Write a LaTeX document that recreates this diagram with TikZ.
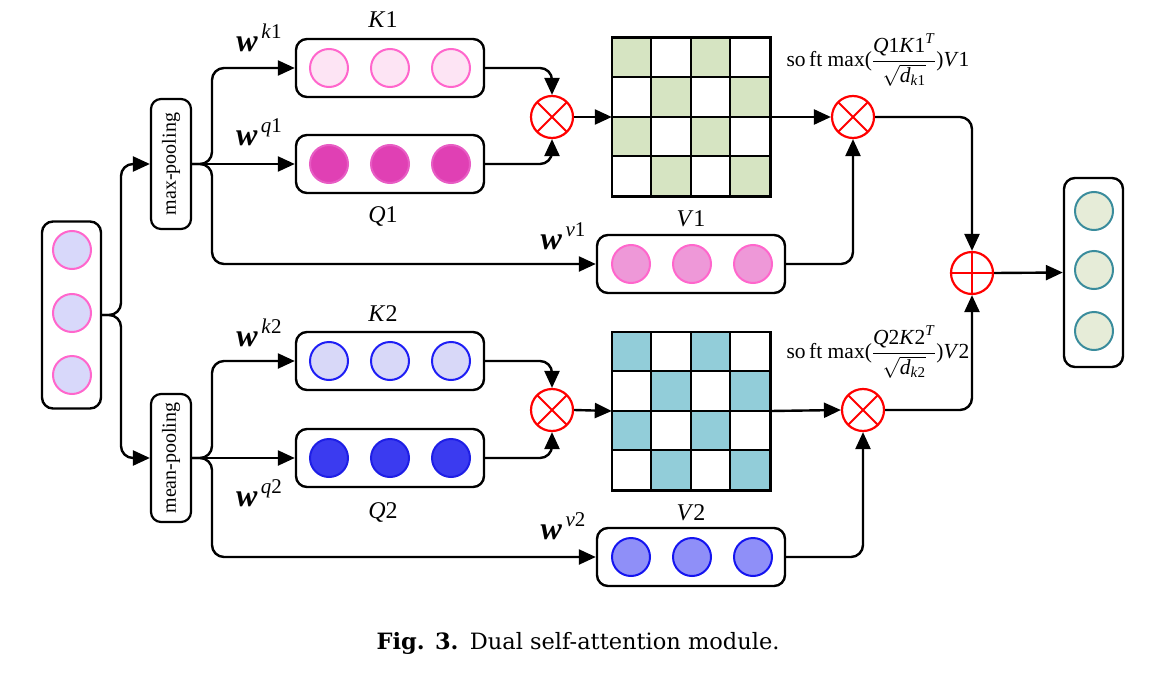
\documentclass[tikz,border=0pt]{standalone}
\usepackage{fontspec}
\usepackage{amsmath}
\setmainfont{Liberation Serif}
\newfontfamily\capfont{DejaVu Serif}
\usetikzlibrary{arrows.meta,calc}
\definecolor{pinkS}{HTML}{FF66CC}
\definecolor{inpF}{HTML}{D8D8FA}
\definecolor{kaF}{HTML}{FDE4F4}
\definecolor{qaF}{HTML}{E040B4}
\definecolor{qaS}{HTML}{E85CC4}
\definecolor{vaF}{HTML}{EE98D8}
\definecolor{kbF}{HTML}{D8D8F8}
\definecolor{kbS}{HTML}{1E1EF5}
\definecolor{qbF}{HTML}{3B3BF0}
\definecolor{qbS}{HTML}{1E1EE6}
\definecolor{vbF}{HTML}{8F8FF8}
\definecolor{vbS}{HTML}{1414F0}
\definecolor{outF}{HTML}{E6ECD8}
\definecolor{outS}{HTML}{3A8C9C}
\definecolor{gA}{HTML}{D6E4C2}
\definecolor{gB}{HTML}{92CDD9}
\newcommand\wlab[2]{{\fontsize{32}{32}\selectfont\textbf{\textit{w}}}\raisebox{13pt}{\fontsize{21}{21}\selectfont\,\textit{#1}#2}}
\begin{document}
\begin{tikzpicture}[x=1pt,y=-1pt,
  arr/.style={-{Triangle[length=17pt,width=15pt]}, line width=2.4pt, rounded corners=12pt},
  hbox/.style={draw, line width=2.4pt, rounded corners=11pt, minimum width=188pt, minimum height=58pt, inner sep=0pt},
  vbox/.style={draw, line width=2.4pt, rounded corners=11pt, minimum width=59pt, minimum height=187pt, inner sep=0pt},
  pool/.style={draw, line width=2.2pt, rounded corners=10pt, minimum width=40pt, inner sep=0pt, font=\fontsize{20}{20}\selectfont},
  dot/.style={circle, minimum size=38pt, inner sep=0pt, line width=2pt},
  lab/.style={font=\fontsize{24}{24}\selectfont},
  mul/.style={circle, draw=red, line width=2.2pt, minimum size=42pt, inner sep=0pt,
    path picture={\draw[red, line width=1.8pt] (path picture bounding box.north west) -- (path picture bounding box.south east)
      (path picture bounding box.north east) -- (path picture bounding box.south west);}},
  add/.style={circle, draw=red, line width=2.2pt, minimum size=42pt, inner sep=0pt,
    path picture={\draw[red, line width=1.8pt] (path picture bounding box.north) -- (path picture bounding box.south)
      (path picture bounding box.east) -- (path picture bounding box.west);}},
  mat/.style={minimum size=158pt, inner sep=0pt},
  sm/.style={font=\fontsize{21.5}{21.5}\selectfont, inner sep=0pt}
]
\useasboundingbox (0,0) rectangle (1154,677);

% input
\node[vbox] (inp) at (71.5,315) {};
\foreach \y [count=\i] in {250,313,375} \node[dot, draw=pinkS, fill=inpF] (in\i) at (72,\y) {};

% pooling
\node[pool, minimum height=130pt] (maxp) at (171,164) {\rotatebox{90}{max-pooling}};
\node[pool, minimum height=128pt] (meanp) at (171,458) {\rotatebox{90}{mean-pooling}};
\draw[arr] (inp.east) -- (121,315) |- (maxp.west);
\draw[arr] (inp.east) -- (121,315) |- (meanp.west);

% upper boxes
\node[hbox] (K1) at (390,68) {};
\node[hbox] (Q1) at (390,164) {};
\node[hbox] (V1) at (691,264) {};
\foreach \x [count=\i] in {329,390,451} {
  \node[dot, draw=pinkS, fill=kaF] (k1c\i) at (\x,68) {};
  \node[dot, draw=qaS, fill=qaF] (q1c\i) at (\x,164) {};
}
\foreach \x [count=\i] in {631,692,753} \node[dot, draw=pinkS, fill=vaF] (v1c\i) at (\x,264) {};

% lower boxes
\node[hbox] (K2) at (390,361) {};
\node[hbox] (Q2) at (390,458) {};
\node[hbox] (V2) at (691,557) {};
\foreach \x [count=\i] in {329,390,451} {
  \node[dot, draw=kbS, fill=kbF] (k2c\i) at (\x,361) {};
  \node[dot, draw=qbS, fill=qbF] (q2c\i) at (\x,458) {};
}
\foreach \x [count=\i] in {631,692,753} \node[dot, draw=vbS, fill=vbF] (v2c\i) at (\x,557) {};

% pooling -> boxes
\draw[arr] (maxp.east) -- (212,164) |- (K1.west);
\draw[arr] (maxp.east) -- (Q1.west);
\draw[arr] (maxp.east) -- (212,164) |- (V1.west);
\draw[arr] (meanp.east) -- (212,458) |- (K2.west);
\draw[arr] (meanp.east) -- (Q2.west);
\draw[arr] (meanp.east) -- (212,458) |- (V2.west);

% labels
\node[lab] (lk1) at (383,20) {\textit{K}1};
\node[lab] (lq1) at (383,216) {\textit{Q}1};
\node[lab] (lv1) at (691,219) {\textit{V}1};
\node[lab] (lk2) at (383,314) {\textit{K}2};
\node[lab] (lq2) at (383,512) {\textit{Q}2};
\node[lab] (lv2) at (691,513) {\textit{V}2};
\node (wk1) at (259,38) {\wlab{k}{1}};
\node (wq1) at (259,132) {\wlab{q}{1}};
\node (wv1) at (563,236) {\wlab{v}{1}};
\node (wk2) at (259,333) {\wlab{k}{2}};
\node (wq2) at (259,493) {\wlab{q}{2}};
\node (wv2) at (563,526) {\wlab{v}{2}};

% multiply + matrices
\node[mul] (m1) at (552,117) {};
\node[mul] (m3) at (552,410) {};
\node[mat] (mat1) at (691,117) {};
\node[mat] (mat2) at (691,411) {};
\foreach \mm/\cc in {mat1/gA,mat2/gB} {
  \foreach \r/\c in {0/0,0/2,1/1,1/3,2/0,2/2,3/1,3/3}
    \fill[\cc] ($(\mm.north west)+(\c*39.5,\r*39.5)$) rectangle +(39.5,39.5);
  \foreach \i in {1,2,3} {
    \draw[line width=2.2pt] ($(\mm.north west)+(\i*39.5,0)$) -- +(0,158);
    \draw[line width=2.2pt] ($(\mm.north west)+(0,\i*39.5)$) -- +(158,0);
  }
  \draw[line width=2.6pt] (\mm.north west) rectangle (\mm.south east);
}
\node[mul] (m2) at (853,117) {};
\node[mul] (m4) at (863,410) {};
\node[add] (plus) at (972,273) {};

\draw[arr] (K1.east) -| (m1.north);
\draw[arr] (Q1.east) -| (m1.south);
\draw[arr] (K2.east) -| (m3.north);
\draw[arr] (Q2.east) -| (m3.south);
\draw[arr] (m1.east) -- (mat1.west);
\draw[arr] (m3.east) -- (mat2.west);
\draw[arr] (mat1.east) -- (m2.west);
\draw[arr] (mat2.east) -- (m4.west);
\draw[arr] (V1.east) -| (m2.south);
\draw[arr] (V2.east) -| (m4.south);
\draw[arr] (m2.east) -| (plus.north);
\draw[arr] (m4.east) -| (plus.south);

% softmax labels
\node[sm] (sm1) at (878,60) {so\,ft max($\dfrac{\text{\textit{Q}1\textit{K}1}^{\text{\textit{T}}}}{\sqrt{\text{\textit{d}}_{\text{\textit{k}1}}}}$)\textit{V}1};
\node[sm] (sm2) at (878,352) {so\,ft max($\dfrac{\text{\textit{Q}2\textit{K}2}^{\text{\textit{T}}}}{\sqrt{\text{\textit{d}}_{\text{\textit{k}2}}}}$)\textit{V}2};

% output
\node[vbox, minimum height=189pt] (out) at (1093.5,272.5) {};
\foreach \y [count=\i] in {211,270,331} \node[dot, draw=outS, fill=outF] (o\i) at (1094,\y) {};
\draw[arr] (plus.east) -- (out.west);

% caption
\node[font=\capfont\fontsize{22.5}{22.5}\selectfont] (cap) at (578,643) {\textbf{Fig. 3.}\enspace Dual self-attention module.};
\end{tikzpicture}
\end{document}
